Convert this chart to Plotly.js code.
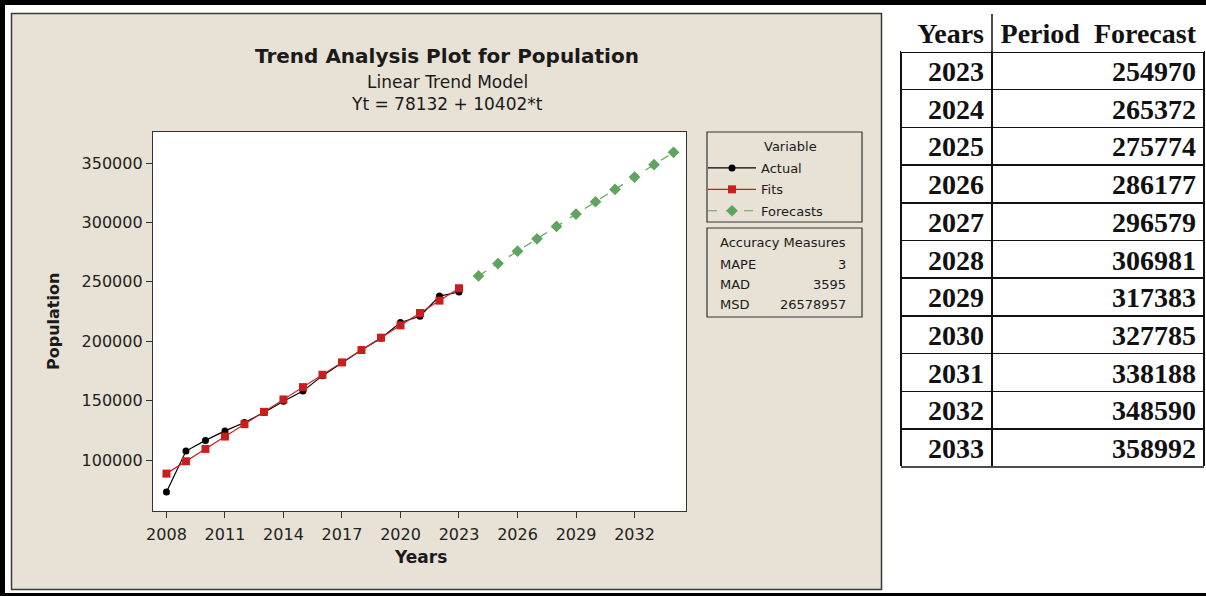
<!DOCTYPE html>
<html><head><meta charset="utf-8">
<script src="https://cdn.plot.ly/plotly-3.0.1.min.js"></script>
<style>html,body{margin:0;padding:0;background:#fff}#chart{width:1206px;height:596px}</style>
</head><body><div id="chart"></div>
<script>
// ---- data ----
const actualYears = [2008,2009,2010,2011,2012,2013,2014,2015,2016,2017,2018,2019,2020,2021,2022,2023];
const actualValues = [73100,107500,116500,124500,131500,140000,149500,158000,171000,182000,192500,202500,215700,221000,238000,241400];
const fitValues = [88535,98937,109340,119742,130144,140546,150948,161350,171752,182155,192557,202959,213361,223763,234165,244568];
const forecastYears = [2024,2025,2026,2027,2028,2029,2030,2031,2032,2033,2034];
const forecastValues = [254970,265372,275774,286177,296579,306981,317383,327785,338188,348590,358992];
const tableYears = [2023,2024,2025,2026,2027,2028,2029,2030,2031,2032,2033];
const tableHeader = ['Years','Period\u00a0\u00a0Forecast'];
const xTickVals = [2008,2011,2014,2017,2020,2023,2026,2029,2032];
const yTickVals = [100000,150000,200000,250000,300000,350000];
const seriesNames = ['Actual','Fits','Forecasts'];
const legendTitle = 'Variable';
const accuracyLabels = ['MAPE','MAD','MSD'];
const accuracyValues = ['3','3595','26578957'];
const titleText = 'Trend Analysis Plot for Population';
const subtitle1 = 'Linear Trend Model';
const subtitle2 = 'Yt = 78132 + 10402*t';

// ---- layout helpers ----
const W = 1206, H = 596;
const px = x => x / W, py = y => 1 - y / H;
const FONT = '"DejaVu Sans", sans-serif';
const SERIF = '"Liberation Serif", "Times New Roman", serif';
const BEIGE = '#e7e2d5';
const RED = '#c81e1e', GREEN = '#5fa45f';

const traces = [
  {type:'scatter', mode:'lines+markers', name:seriesNames[0], legendgroup:'a', x:actualYears, y:actualValues,
   line:{color:'#000', width:1.2}, marker:{symbol:'circle', size:7, color:'#000'}},
  {type:'scatter', mode:'lines+markers', name:seriesNames[1], legendgroup:'b', x:actualYears, y:fitValues,
   line:{color:RED, width:1.2}, marker:{symbol:'square', size:8, color:RED}},
  {type:'scatter', mode:'lines+markers', name:seriesNames[2], legendgroup:'c', x:forecastYears, y:forecastValues,
   line:{color:GREEN, width:1.2, dash:'dash'}, marker:{symbol:'diamond', size:9, color:GREEN}},
  {type:'table', domain:{x:[px(901), px(1204)], y:[py(467), py(14)]},
   columnwidth:[91, 212],
   header:{values:tableHeader, align:'right', height:38,
     line:{color:'rgba(255,255,255,0)', width:0}, fill:{color:'#fff'},
     font:{family:SERIF, size:28, color:'#111', weight:'bold'}},
   cells:{values:[tableYears, forecastValues], align:'right', height:37.7,
     line:{color:'#111', width:1.5}, fill:{color:'#fff'},
     font:{family:SERIF, size:28, color:'#111', weight:'bold'}}}
];

const shapes = [
  {type:'rect', xref:'paper', yref:'paper', x0:px(11.5), x1:px(881.5), y0:py(589.5), y1:py(13.5),
   fillcolor:BEIGE, line:{color:'#3a3a3a', width:1.5}, layer:'below'},
  {type:'rect', xref:'paper', yref:'paper', x0:px(153), x1:px(686), y0:py(511), y1:py(132),
   fillcolor:'#fff', line:{width:0}, layer:'below'},
  {type:'rect', xref:'paper', yref:'paper', x0:0, x1:1, y0:py(5), y1:1, fillcolor:'#000', line:{width:0}, layer:'below'},
  {type:'rect', xref:'paper', yref:'paper', x0:0, x1:px(5), y0:0, y1:1, fillcolor:'#000', line:{width:0}, layer:'below'},
  {type:'rect', xref:'paper', yref:'paper', x0:0, x1:1, y0:0, y1:py(593), fillcolor:'#000', line:{width:0}, layer:'below'},
  {type:'rect', xref:'paper', yref:'paper', x0:px(707), x1:px(862), y0:py(222), y1:py(132),
   line:{color:'#333', width:1.2}},
  {type:'rect', xref:'paper', yref:'paper', x0:px(707), x1:px(862), y0:py(317), y1:py(228),
   line:{color:'#333', width:1.2}},
  {type:'line', xref:'paper', yref:'paper', x0:px(992), x1:px(992), y0:py(52), y1:py(14),
   line:{color:'#111', width:1.5}},
  {type:'line', xref:'paper', yref:'paper', x0:px(901), x1:px(1204), y0:py(467), y1:py(467),
   line:{color:'#111', width:1.5}}
];

const annotations = [
  {text:'<b>'+titleText+'</b>', x:px(447), y:py(56), font:{size:20}},
  {text:subtitle1, x:px(447), y:py(82), font:{size:17}},
  {text:subtitle2, x:px(447), y:py(104), font:{size:17}},
  {text:'<b>Population</b>', x:px(53), y:py(322), textangle:-90, font:{size:16}},
  {text:'<b>Years</b>', x:px(420), y:py(557), font:{size:17}},
  {text:legendTitle, x:px(790), y:py(147), font:{size:13}},
  {text:'Accuracy Measures', x:px(718), y:py(243), xanchor:'left', font:{size:13}}
];
accuracyLabels.forEach((lab, i) => {
  annotations.push({text:lab, x:px(718), y:py(264 + 20*i), xanchor:'left', font:{size:13}});
  annotations.push({text:accuracyValues[i], x:px(848), y:py(264 + 20*i), xanchor:'right', font:{size:13}});
});
annotations.forEach(a => {
  a.xref = 'paper'; a.yref = 'paper'; a.showarrow = false;
  if (!a.xanchor) a.xanchor = 'center';
  a.yanchor = 'middle';
  a.font = Object.assign({family:FONT, color:'#1a1a1a'}, a.font);
});

const layout = {
  width:W, height:H, margin:{l:0, r:0, t:0, b:0},
  paper_bgcolor:'#fff', plot_bgcolor:'#fff',
  font:{family:FONT, color:'#1a1a1a'},
  xaxis:{domain:[px(153), px(686)], range:[2007.31, 2034.64], tickvals:xTickVals,
    ticks:'outside', ticklen:6, tickcolor:'#333', showline:true, mirror:true, linecolor:'#333', linewidth:1.2,
    showgrid:false, zeroline:false, ticklabelstandoff:3, tickfont:{family:FONT, size:16, color:'#222'}},
  yaxis:{domain:[py(511), py(132)], range:[57071, 376094], tickvals:yTickVals, tickformat:'d',
    ticks:'outside', ticklen:6, tickcolor:'#333', showline:true, mirror:true, linecolor:'#333', linewidth:1.2,
    showgrid:false, zeroline:false, tickfont:{family:FONT, size:16, color:'#222'}},
  showlegend:true,
  legend:{x:px(703), y:py(153), xanchor:'left', yanchor:'top', bgcolor:'rgba(0,0,0,0)', borderwidth:0,
    itemwidth:48, font:{family:FONT, size:13, color:'#1a1a1a'}, tracegroupgap:1.5},
  shapes:shapes, annotations:annotations
};

Plotly.newPlot('chart', traces, layout, {displayModeBar:false, staticPlot:true});
</script></body></html>
